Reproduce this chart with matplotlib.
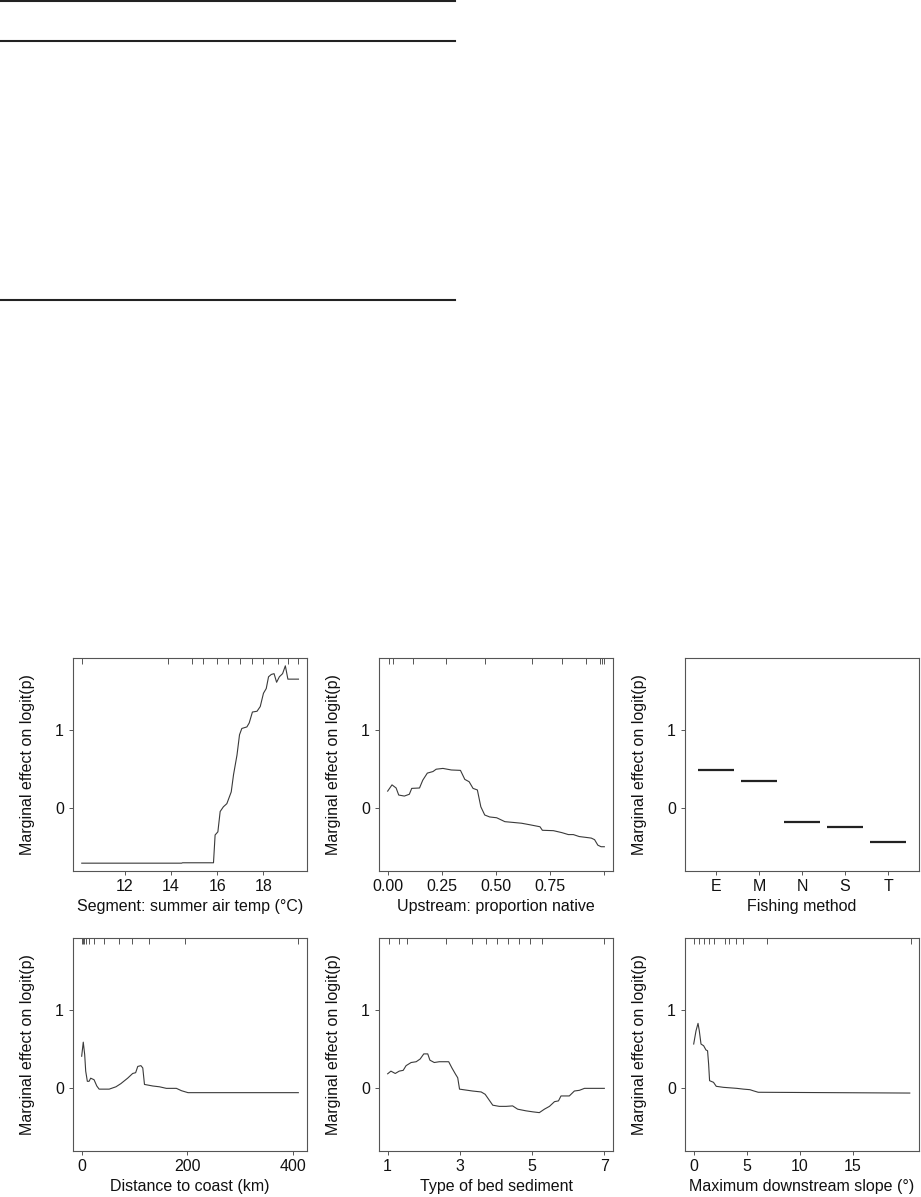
import matplotlib
matplotlib.use("Agg")
import matplotlib.pyplot as plt
from matplotlib.lines import Line2D

plt.rcParams['font.family'] = ['Liberation Sans', 'DejaVu Sans']
plt.rcParams['font.size'] = 11.5

# ---------------- data ----------------
temp_x = [10.12, 14.45, 14.5, 15.84, 15.91, 16.03, 16.13, 16.27, 16.42, 16.61, 16.71, 16.86,
          16.97, 17.07, 17.29, 17.39, 17.53, 17.73, 17.87, 18.01, 18.13, 18.23, 18.35,
          18.47, 18.58, 18.70, 18.84, 18.96, 19.07, 19.53]
temp_y = [-0.70, -0.70, -0.695, -0.695, -0.34, -0.30, -0.04, 0.02, 0.06, 0.21, 0.43, 0.68,
          0.94, 1.02, 1.04, 1.09, 1.23, 1.24, 1.30, 1.47, 1.53, 1.68, 1.71,
          1.72, 1.61, 1.68, 1.72, 1.82, 1.65, 1.65]
temp_rug = [10.12, 13.88, 14.90, 15.40, 15.99, 16.47, 16.97, 17.53, 18.01, 18.62, 19.06, 19.49]

nat_x = [0.0, 0.02, 0.039, 0.051, 0.077, 0.10, 0.111, 0.147, 0.162, 0.183, 0.209, 0.224,
         0.255, 0.294, 0.336, 0.356, 0.376, 0.394, 0.414, 0.43, 0.448, 0.471, 0.503,
         0.541, 0.58, 0.618, 0.657, 0.703, 0.714, 0.765, 0.804, 0.834, 0.857, 0.884,
         0.927, 0.94, 0.955, 0.97, 0.985, 1.0]
nat_y = [0.22, 0.30, 0.26, 0.17, 0.157, 0.18, 0.255, 0.26, 0.36, 0.45, 0.47, 0.50,
         0.51, 0.49, 0.485, 0.37, 0.34, 0.255, 0.235, 0.02, -0.085, -0.11, -0.12,
         -0.17, -0.18, -0.19, -0.21, -0.235, -0.28, -0.285, -0.31, -0.335, -0.335, -0.36,
         -0.375, -0.38, -0.40, -0.47, -0.49, -0.49]
nat_rug = [0.005, 0.023, 0.116, 0.27, 0.451, 0.665, 0.804, 0.917, 0.981, 0.989, 0.997]

fish_methods = ['E', 'M', 'N', 'S', 'T']
fish_effect = [0.489, 0.353, -0.174, -0.243, -0.426]

coast_x = [0, 3, 5.7, 7.6, 10.7, 14, 17, 23.4, 28.6, 33, 52, 64.8, 74, 86.9, 96.4, 102,
           106, 112, 115.5, 118.7, 134.5, 147, 160, 179, 188.6, 201, 409.5]
coast_y = [0.41, 0.59, 0.43, 0.22, 0.09, 0.09, 0.13, 0.11, 0.03, -0.01, -0.01, 0.02, 0.06,
           0.13, 0.19, 0.20, 0.28, 0.29, 0.26, 0.05, 0.03, 0.02, 0.0, 0.0, -0.03, -0.055, -0.055]
coast_rug = [0, 2.5, 5.1, 8.9, 13.9, 23.4, 42.5, 69.8, 95.2, 128, 195, 409.5]

sed_x = [1.0, 1.09, 1.21, 1.32, 1.43, 1.51, 1.65, 1.79, 1.90, 2.0, 2.11, 2.17, 2.29, 2.43,
         2.57, 2.69, 2.78, 2.88, 2.94, 2.99, 3.35, 3.59, 3.70, 3.91, 4.09, 4.28, 4.46,
         4.60, 4.83, 5.02, 5.20, 5.34, 5.48, 5.62, 5.73, 5.80, 6.03, 6.17, 6.31, 6.45, 7.0]
sed_y = [0.186, 0.22, 0.19, 0.22, 0.23, 0.29, 0.33, 0.34, 0.375, 0.44, 0.44, 0.36, 0.33, 0.34,
         0.34, 0.34, 0.26, 0.18, 0.135, -0.01, -0.034, -0.046, -0.076, -0.215, -0.23, -0.23,
         -0.224, -0.266, -0.287, -0.30, -0.31, -0.266, -0.23, -0.17, -0.16, -0.097, -0.097,
         -0.034, -0.025, 0.0, 0.0]
sed_rug = [1.03, 1.30, 1.53, 2.62, 3.34, 3.71, 4.02, 4.32, 4.63, 4.94, 5.28, 7.0]

slope_x = [0, 0.22, 0.41, 0.53, 0.69, 0.94, 1.16, 1.31, 1.41, 1.5, 1.87, 2.13, 2.81, 4.07,
           4.7, 5.31, 5.6, 6.09, 20.4]
slope_y = [0.566, 0.735, 0.83, 0.735, 0.566, 0.544, 0.49, 0.48, 0.31, 0.098, 0.077, 0.026,
           0.013, 0.0, -0.01, -0.017, -0.03, -0.05, -0.06]
slope_rug = [0, 0.47, 0.94, 1.41, 1.94, 2.97, 3.38, 4.0, 4.69, 6.88, 20.47]

ylabel = 'Marginal effect on logit(p)'
y_lim = (-0.80, 1.92)

# ---------------- figure ----------------
W, H = 921, 1197
fig = plt.figure(figsize=(W / 100, H / 100), dpi=100)

# table rules at the top
for yy in [1.0, 40.5, 300.0]:
    fig.add_artist(Line2D([0, 455 / W], [1 - yy / H, 1 - yy / H], color='#222222', lw=1.5))

lefts = [73, 379, 685]
tops = [658, 938]
aw, ah = 234, 213

line_c = '#3a3a3a'
frame_c = '#555555'


def make_ax(col, row):
    l = lefts[col]
    t = tops[row]
    ax = fig.add_axes([l / W, 1 - (t + ah) / H, aw / W, ah / H])
    for s in ax.spines.values():
        s.set_color(frame_c)
        s.set_linewidth(0.8)
    ax.tick_params(axis='both', direction='out', length=3, width=0.7, color=frame_c,
                   labelsize=11.5, labelcolor='#111111')
    ax.tick_params(axis='x', pad=2.5)
    ax.tick_params(axis='y', pad=3.5)
    ax.set_ylim(*y_lim)
    ax.set_yticks([0, 1])
    ax.set_yticklabels(['0', '1'])
    ax.set_ylabel(ylabel, fontsize=11.5, color='#111111')
    ax.yaxis.set_label_coords(-38 / aw, 0.5)
    return ax


def rug(ax, vals):
    ax.vlines(vals, 1 - 6 / ah, 1, transform=ax.get_xaxis_transform(), color=frame_c, lw=0.7)


def finish(ax, xlabel):
    ax.set_xlabel(xlabel, fontsize=11.5, color='#111111')
    ax.xaxis.set_label_coords(0.5, -36 / ah)
    ax.xaxis.label.set_va('center')


# Panel 1
ax = make_ax(0, 0)
ax.plot(temp_x, temp_y, color=line_c, lw=0.8)
rug(ax, temp_rug)
ax.set_xlim(9.74, 19.9)
ax.set_xticks([12, 14, 16, 18])
finish(ax, 'Segment: summer air temp (°C)')

# Panel 2
ax = make_ax(1, 0)
ax.plot(nat_x, nat_y, color=line_c, lw=0.8)
rug(ax, nat_rug)
ax.set_xlim(-0.04, 1.04)
ax.set_xticks([0, 0.25, 0.5, 0.75, 1.0])
ax.set_xticklabels(['0.00', '0.25', '0.50', '0.75', ''])
finish(ax, 'Upstream: proportion native')

# Panel 3
ax = make_ax(2, 0)
pos = list(range(1, len(fish_methods) + 1))
ax.hlines(fish_effect, [p - 0.42 for p in pos], [p + 0.42 for p in pos], color='#222222', lw=1.6)
ax.set_xlim(0.28, 5.72)
ax.set_xticks(pos)
ax.set_xticklabels(fish_methods)
finish(ax, 'Fishing method')

# Panel 4
ax = make_ax(0, 1)
ax.plot(coast_x, coast_y, color=line_c, lw=0.8)
rug(ax, coast_rug)
ax.set_xlim(-16.4, 425.9)
ax.set_xticks([0, 200, 400])
finish(ax, 'Distance to coast (km)')

# Panel 5
ax = make_ax(1, 1)
ax.plot(sed_x, sed_y, color=line_c, lw=0.8)
rug(ax, sed_rug)
ax.set_xlim(0.76, 7.24)
ax.set_xticks([1, 3, 5, 7])
finish(ax, 'Type of bed sediment')

# Panel 6
ax = make_ax(2, 1)
ax.plot(slope_x, slope_y, color=line_c, lw=0.8)
rug(ax, slope_rug)
ax.set_xlim(-0.82, 21.27)
ax.set_xticks([0, 5, 10, 15])
finish(ax, 'Maximum downstream slope (°)')

fig.savefig('out.png', dpi=100)
